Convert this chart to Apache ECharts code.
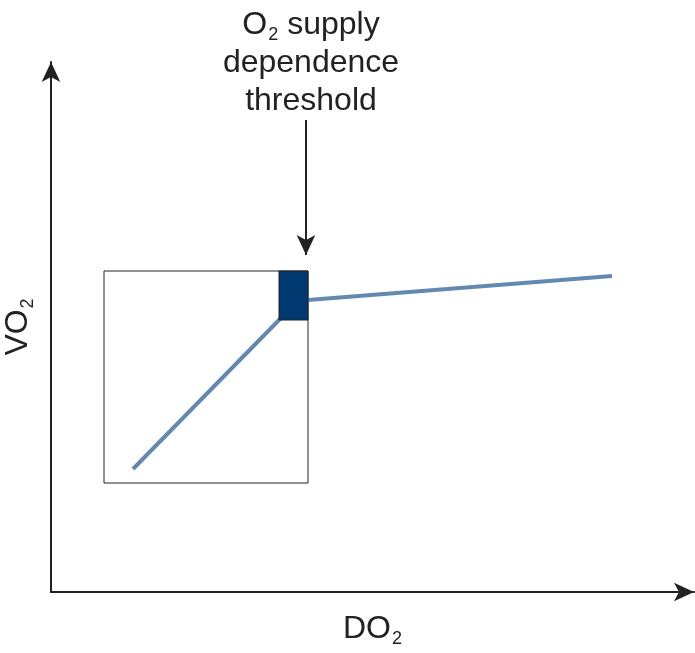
<!DOCTYPE html>
<html lang="en">
<head>
<meta charset="UTF-8">
<title>DO2 vs VO2</title>
<script src="https://cdn.jsdelivr.net/npm/echarts@6/dist/echarts.min.js"></script>
<style>html,body{margin:0;padding:0;background:#fff}</style>
</head>
<body>
<div id="main" style="width:695px;height:653px;"></div>
<script type="text/javascript">
// VO2 curve (arbitrary units along DO2 / VO2)
var curveX = [82, 229, 257, 561];
var curveY = [123, 273, 292, 316];
// zoomed box and threshold block [x0, y0, x1, y1]
var zoomBox = [53, 109, 257, 321];
var thresholdBox = [228, 272, 257, 321];
// annotation arrow: x, y start, y end
var arrowX = 255, arrowFrom = 472, arrowTo = 337;

var myChart = echarts.init(document.getElementById('main'));
var font = '"Liberation Sans", Arial, sans-serif';
var sub = { fontSize: 18, fontFamily: font, color: '#222', lineHeight: 6, padding: [32, 0, 0, 1], verticalAlign: 'bottom' };

myChart.setOption({
    animation: false,
    title: {
        text: '{m|O}{s|2}{m| supply}\ndependence\nthreshold',
        left: 306,
        top: 1,
        textAlign: 'center',
        textStyle: {
            fontSize: 32,
            fontWeight: 'normal',
            fontFamily: font,
            color: '#222',
            lineHeight: 38,
            rich: {
                m: { fontSize: 32, fontFamily: font, color: '#222', lineHeight: 38 },
                s: sub
            }
        }
    },
    grid: { left: 51, right: 1, top: 62, bottom: 61, containLabel: false, outerBoundsMode: 'none' },
    xAxis: {
        type: 'value', min: 0, max: 643,
        name: '{m|DO}{s|2}',
        nameLocation: 'middle',
        nameGap: 18,
        nameTextStyle: {
            rich: {
                m: { fontSize: 32, fontFamily: font, color: '#222', lineHeight: 38 },
                s: sub
            }
        },
        axisLine: { lineStyle: { color: '#222', width: 2 }, symbol: ['none', 'arrow'], symbolSize: [14, 20] },
        axisTick: { show: false }, axisLabel: { show: false }, splitLine: { show: false }
    },
    yAxis: {
        type: 'value', min: 0, max: 530,
        name: '{m|VO}{s|2}',
        nameLocation: 'middle',
        nameRotate: 90,
        nameGap: 14,
        nameTextStyle: {
            rich: {
                m: { fontSize: 32, fontFamily: font, color: '#222', lineHeight: 38 },
                s: sub
            }
        },
        axisLine: { lineStyle: { color: '#222', width: 2 }, symbol: ['none', 'arrow'], symbolSize: [14, 20] },
        axisTick: { show: false }, axisLabel: { show: false }, splitLine: { show: false }
    },
    series: [
        {
            type: 'line',
            z: 3,
            symbol: 'none',
            data: curveX.map(function (x, i) { return [x, curveY[i]]; }),
            lineStyle: { color: '#6389b0', width: 4 },
            markArea: {
                silent: true,
                z: 1,
                itemStyle: { color: 'rgba(0,0,0,0)', borderColor: '#222', borderWidth: 1 },
                data: [[{ coord: [zoomBox[0], zoomBox[1]] }, { coord: [zoomBox[2], zoomBox[3]] }]]
            }
        },
        {
            type: 'line',
            z: 10,
            data: [],
            markArea: {
                silent: true,
                z: 10,
                itemStyle: { color: '#003a70', opacity: 1, borderColor: '#222', borderWidth: 1 },
                data: [[{ coord: [thresholdBox[0], thresholdBox[1]] }, { coord: [thresholdBox[2], thresholdBox[3]] }]]
            },
            markLine: {
                silent: true,
                z: 10,
                symbol: ['none', 'arrow'],
                symbolSize: [14, 20],
                label: { show: false },
                lineStyle: { color: '#222', width: 2, type: 'solid' },
                data: [[{ coord: [arrowX, arrowFrom] }, { coord: [arrowX, arrowTo] }]]
            }
        }
    ]
});
</script>
</body>
</html>
